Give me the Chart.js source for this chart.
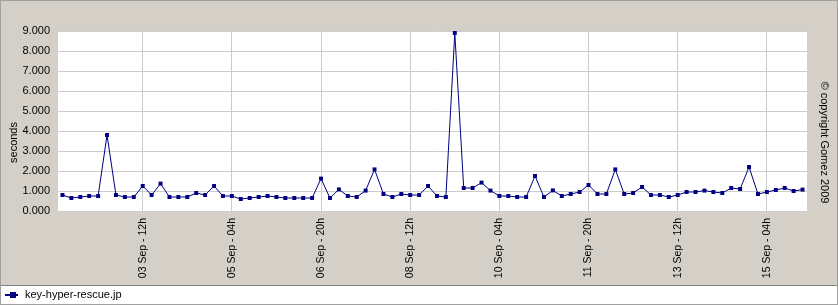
<!DOCTYPE html>
<html>
<head>
<meta charset="utf-8">
<title>key-hyper-rescue.jp</title>
<script src="https://cdn.jsdelivr.net/npm/chart.js@4.4.0/dist/chart.umd.min.js"></script>
<style>
  html, body { margin: 0; padding: 0; background: #d4d0c8; }
  #wrap { width: 838px; height: 305px; }
</style>
</head>
<body>
<div id="wrap"><canvas id="responseChart" width="838" height="305"></canvas></div>
<script>
// response time (seconds), one measurement every 4 hours starting 02 Sep - 00h
const responseTimes = [
    0.80, 0.65, 0.70, 0.75, 0.75, 3.80, 0.80, 0.70, 0.70, 1.25,
    0.80, 1.37, 0.70, 0.70, 0.70, 0.90, 0.80, 1.25, 0.75, 0.75,
    0.60, 0.65, 0.70, 0.75, 0.70, 0.65, 0.65, 0.65, 0.65, 1.62,
    0.65, 1.08, 0.75, 0.70, 1.02, 2.08, 0.85, 0.70, 0.85, 0.80,
    0.80, 1.25, 0.75, 0.70, 8.90, 1.15, 1.15, 1.42, 1.02, 0.75,
    0.75, 0.70, 0.70, 1.75, 0.70, 1.03, 0.75, 0.85, 0.95, 1.30,
    0.85, 0.85, 2.08, 0.85, 0.90, 1.20, 0.80, 0.80, 0.70, 0.80,
    0.95, 0.95, 1.02, 0.95, 0.90, 1.15, 1.10, 2.20, 0.85, 0.95,
    1.05, 1.15, 1.00, 1.07
];

// labels shown under the x axis (each one gets a vertical grid line)
const tickLabels = [
    '03 Sep - 12h', '05 Sep - 04h', '06 Sep - 20h', '08 Sep - 12h',
    '10 Sep - 04h', '11 Sep - 20h', '13 Sep - 12h', '15 Sep - 04h'
];

const startDay = 2;
const stepHours = 4;
const yMin = 0;
const yMax = 9;
const yStep = 1;

const seriesName = 'key-hyper-rescue.jp';
const yTitle = 'seconds';
const copyrightText = '\u00a9 copyright Gomez 2009';

// one category per measurement: "dd Sep - hhh"
const categories = responseTimes.map((v, i) => {
    const h = i * stepHours;
    const day = startDay + Math.floor(h / 24);
    return String(day).padStart(2, '0') + ' Sep - ' + String(h % 24).padStart(2, '0') + 'h';
});

const navy = '#000080';
const gridColor = '#cccccc';
const fontFamily = "'Liberation Sans', Arial, sans-serif";

// small legend marker: line with a square in the middle
const legendMarker = document.createElement('canvas');
legendMarker.width = 14;
legendMarker.height = 6;
const m = legendMarker.getContext('2d');
m.fillStyle = navy;
m.fillRect(0, 2, 13, 2);
m.fillRect(5, 0, 6, 6);

// grey frame, white plot, legend strip and the two rotated texts
const framePlugin = {
    id: 'gomezFrame',
    beforeDraw(chart) {
        const { ctx, width, height, chartArea, legend } = chart;
        ctx.save();
        ctx.fillStyle = '#d4d0c8';
        ctx.fillRect(0, 0, width, height);
        ctx.fillStyle = '#ffffff';
        ctx.fillRect(chartArea.left, chartArea.top, chartArea.right - chartArea.left, chartArea.bottom - chartArea.top);
        ctx.fillRect(0, legend.top, width, height - legend.top);
        ctx.lineWidth = 1;
        ctx.strokeStyle = '#808080';
        ctx.beginPath();
        ctx.moveTo(0, legend.top + 0.5);
        ctx.lineTo(width, legend.top + 0.5);
        ctx.stroke();
        ctx.strokeStyle = '#a0a0a0';
        ctx.strokeRect(0.5, 0.5, width - 1, height - 1);
        ctx.restore();
    },
    afterDraw(chart) {
        const { ctx, width, legend } = chart;
        const midY = legend.top / 2;
        ctx.save();
        ctx.fillStyle = '#000';
        ctx.font = '11px ' + fontFamily;
        ctx.textAlign = 'center';
        ctx.textBaseline = 'middle';

        ctx.save();
        ctx.translate(14, midY);
        ctx.rotate(-Math.PI / 2);
        ctx.fillText(yTitle, 0, 0);
        ctx.restore();

        ctx.save();
        ctx.translate(width - 14, midY);
        ctx.rotate(Math.PI / 2);
        ctx.fillText(copyrightText, 0, 0);
        ctx.restore();

        ctx.restore();
    }
};

const ctx = document.getElementById('responseChart').getContext('2d');

new Chart(ctx, {
    type: 'line',
    data: {
        labels: categories,
        datasets: [{
            label: seriesName,
            data: responseTimes,
            borderColor: navy,
            backgroundColor: navy,
            borderWidth: 1,
            tension: 0,
            fill: false,
            pointStyle: 'rect',
            pointRadius: 2.8,
            pointBorderWidth: 0,
            pointBackgroundColor: navy
        }]
    },
    options: {
        responsive: false,
        animation: false,
        events: [],
        devicePixelRatio: 1,
        layout: { padding: { top: 31, right: 31, bottom: 0, left: 0 } },
        scales: {
            x: {
                type: 'category',
                offset: true,
                border: { display: false },
                grid: {
                    drawTicks: false,
                    color: (c) => tickLabels.includes(categories[c.index]) ? gridColor : 'rgba(0,0,0,0)'
                },
                ticks: {
                    autoSkip: false,
                    minRotation: 90,
                    maxRotation: 90,
                    padding: 7,
                    color: '#000',
                    font: { family: fontFamily, size: 10.5 },
                    callback: function (value) {
                        const label = this.getLabelForValue(value);
                        return tickLabels.includes(label) ? label : '';
                    }
                },
                afterFit: (scale) => { scale.height = 74; }
            },
            y: {
                min: yMin,
                max: yMax,
                border: { display: false },
                grid: { drawTicks: false, color: gridColor },
                ticks: {
                    stepSize: yStep,
                    padding: 8,
                    color: '#000',
                    font: { family: fontFamily, size: 11 },
                    callback: (value) => value.toFixed(3)
                },
                afterFit: (scale) => { scale.width = 58; }
            }
        },
        plugins: {
            tooltip: { enabled: false },
            legend: {
                position: 'bottom',
                align: 'start',
                maxHeight: 20,
                labels: {
                    usePointStyle: true,
                    pointStyleWidth: 15,
                    padding: 4.5,
                    color: '#000',
                    font: { family: fontFamily, size: 11 },
                    generateLabels: () => [{
                        text: seriesName,
                        pointStyle: legendMarker,
                        fillStyle: navy,
                        strokeStyle: navy,
                        lineWidth: 0,
                        fontColor: '#000',
                        datasetIndex: 0
                    }]
                }
            }
        }
    },
    plugins: [framePlugin]
});
</script>
</body>
</html>
